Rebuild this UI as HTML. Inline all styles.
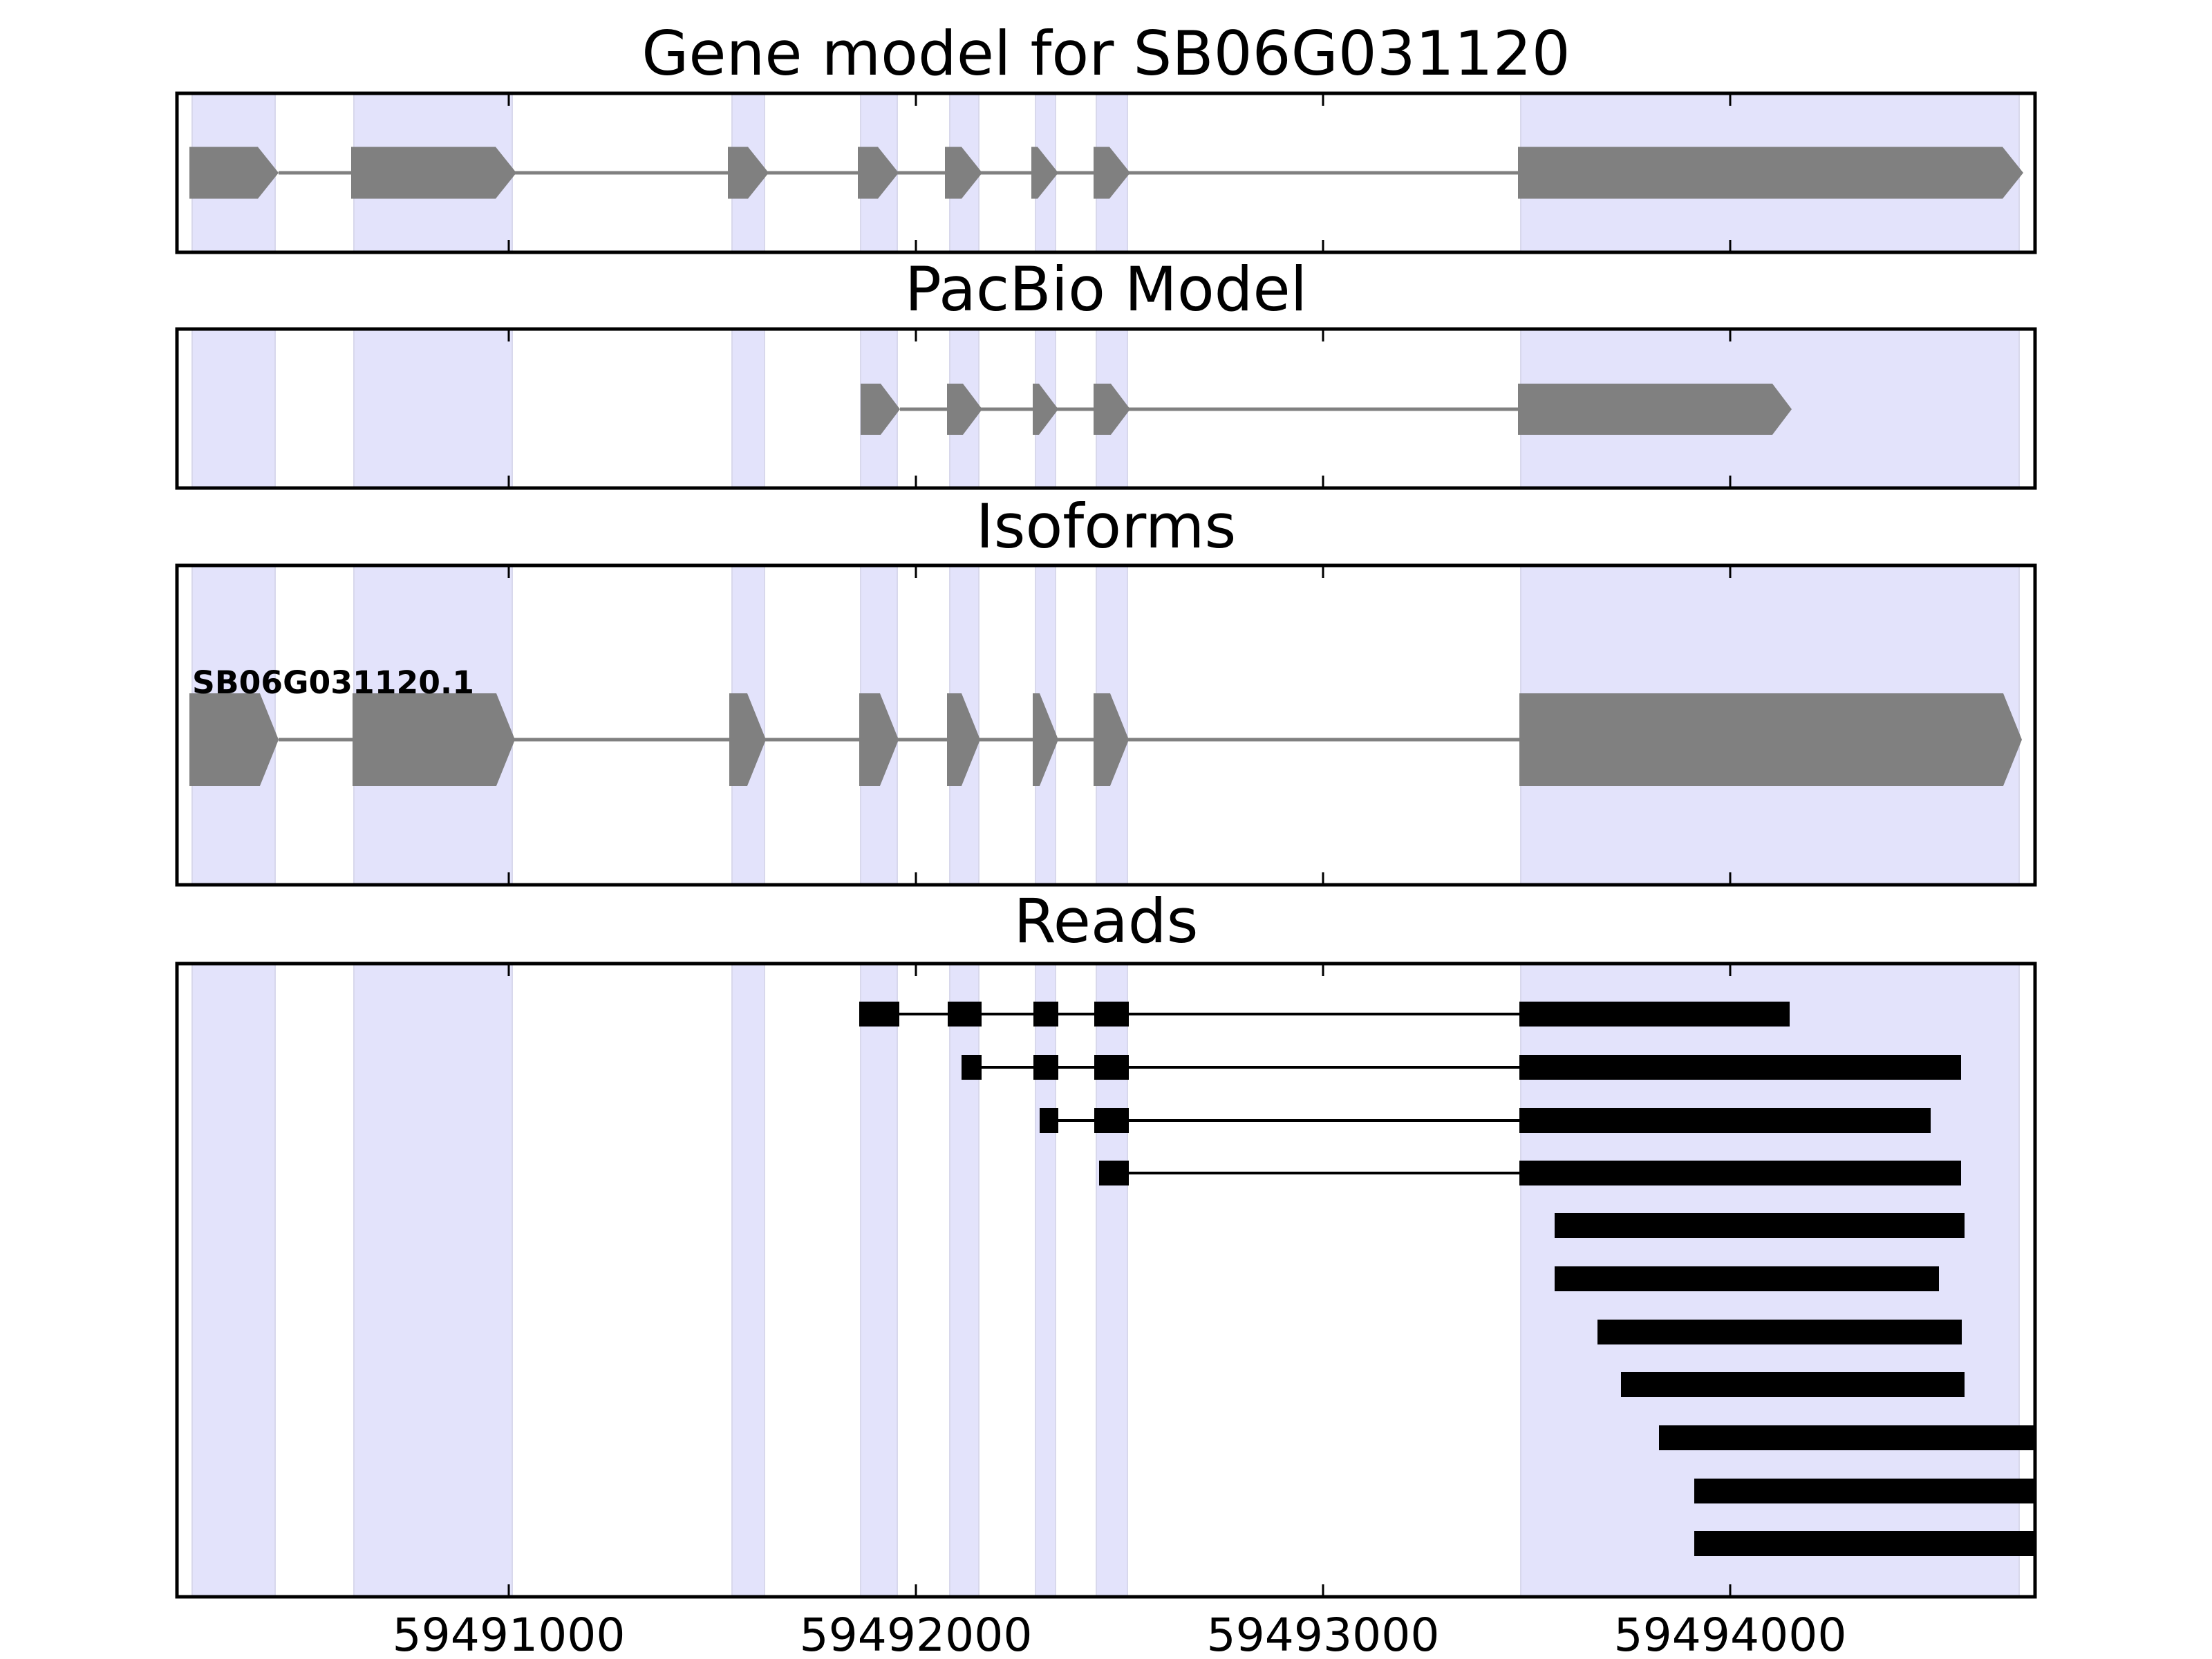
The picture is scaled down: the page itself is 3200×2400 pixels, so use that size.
<!DOCTYPE html>
<html><head><meta charset="utf-8"><style>
html,body{margin:0;padding:0;background:#fff;}
svg{display:block;}
text{font-family:"DejaVu Sans","Liberation Sans",sans-serif;fill:#000;}
</style></head><body>
<svg id="s" width="3200" height="2400" xmlns="http://www.w3.org/2000/svg">
<g id="bg"></g>
<g id="fg"></g>
<text x="1600" y="108" font-size="88" text-anchor="middle">Gene model for SB06G031120</text>
<text x="1600" y="449" font-size="88" text-anchor="middle">PacBio Model</text>
<text x="1600" y="792" font-size="88" text-anchor="middle">Isoforms</text>
<text x="1600" y="1363" font-size="88" text-anchor="middle">Reads</text>
<text x="278" y="1003" font-size="45" font-weight="bold" textLength="408" lengthAdjust="spacingAndGlyphs">SB06G031120.1</text>
<text x="736" y="2388" font-size="66" text-anchor="middle" textLength="337" lengthAdjust="spacingAndGlyphs">59491000</text>
<text x="1325" y="2388" font-size="66" text-anchor="middle" textLength="337" lengthAdjust="spacingAndGlyphs">59492000</text>
<text x="1914" y="2388" font-size="66" text-anchor="middle" textLength="337" lengthAdjust="spacingAndGlyphs">59493000</text>
<text x="2503" y="2388" font-size="66" text-anchor="middle" textLength="337" lengthAdjust="spacingAndGlyphs">59494000</text>
</svg>
<script>
var NS="http://www.w3.org/2000/svg";
var bg=document.getElementById('bg'),fg=document.getElementById('fg');
function el(p,t,a){var e=document.createElementNS(NS,t);for(var k in a)e.setAttribute(k,a[k]);p.appendChild(e);return e;}
var panels=[[135,365],[476,706],[818,1280],[1394,2310]];
var bands=[[278,398],[512,741],[1059,1106],[1245,1298],[1374,1416],[1498,1527],[1586,1631],[2200,2921]];
panels.forEach(function(p){
 bands.forEach(function(b){el(bg,'rect',{x:b[0],y:p[0],width:b[1]-b[0],height:p[1]-p[0],fill:'#e3e3fb',stroke:'#d8d8ec','stroke-width':2});});
});
function gene(cy,h,ex,p){
 el(fg,'line',{x1:ex[0][1],x2:ex[ex.length-1][0],y1:cy,y2:cy,stroke:'#808080','stroke-width':5});
 ex.forEach(function(e){var x1=e[0],x2=e[1],t=cy-h/2,b=cy+h/2,m=x2-p;
  el(fg,'polygon',{points:x1+','+t+' '+m+','+t+' '+x2+','+cy+' '+m+','+b+' '+x1+','+b,fill:'#808080'});});
}
gene(250,75,[[274,403],[508,747],[1053,1112],[1241,1300],[1367,1421],[1492,1531],[1582,1635],[2196,2927]],30);
gene(592,74,[[1245,1302],[1370,1421],[1494,1531],[1582,1635],[2196,2592]],28);
gene(1070,134,[[274,403],[510,745],[1055,1108],[1243,1300],[1370,1418],[1494,1531],[1582,1633],[2198,2925]],27);
var rows=[
[[1243,1301],[1371,1420],[1495,1531],[1583,1633],[2198,2589]],
[[1391,1420],[1495,1531],[1583,1633],[2198,2837]],
[[1504,1531],[1583,1633],[2198,2793]],
[[1590,1633],[2198,2837]],
[[2249,2842]],[[2249,2805]],[[2311,2838]],[[2345,2842]],[[2400,2944]],[[2451,2944]],[[2451,2944]]];
var cys=[1467,1544,1621,1697,1773,1850,1927,2003,2080,2157,2233];
rows.forEach(function(r,i){var cy=cys[i];
 if(r.length>1)el(fg,'line',{x1:r[0][1],x2:r[r.length-1][0],y1:cy,y2:cy,stroke:'#000','stroke-width':4});
 r.forEach(function(e){el(fg,'rect',{x:e[0],y:cy-18,width:e[1]-e[0],height:36,fill:'#000'});});
});
var ticks=[736,1325,1914,2503];
panels.forEach(function(p){
 ticks.forEach(function(t){
  el(fg,'line',{x1:t,x2:t,y1:p[0],y2:p[0]+18,stroke:'#000','stroke-width':3});
  el(fg,'line',{x1:t,x2:t,y1:p[1],y2:p[1]-18,stroke:'#000','stroke-width':3});
 });
 el(fg,'rect',{x:256,y:p[0],width:2688,height:p[1]-p[0],fill:'none',stroke:'#000','stroke-width':5});
});
</script>
</body></html>
